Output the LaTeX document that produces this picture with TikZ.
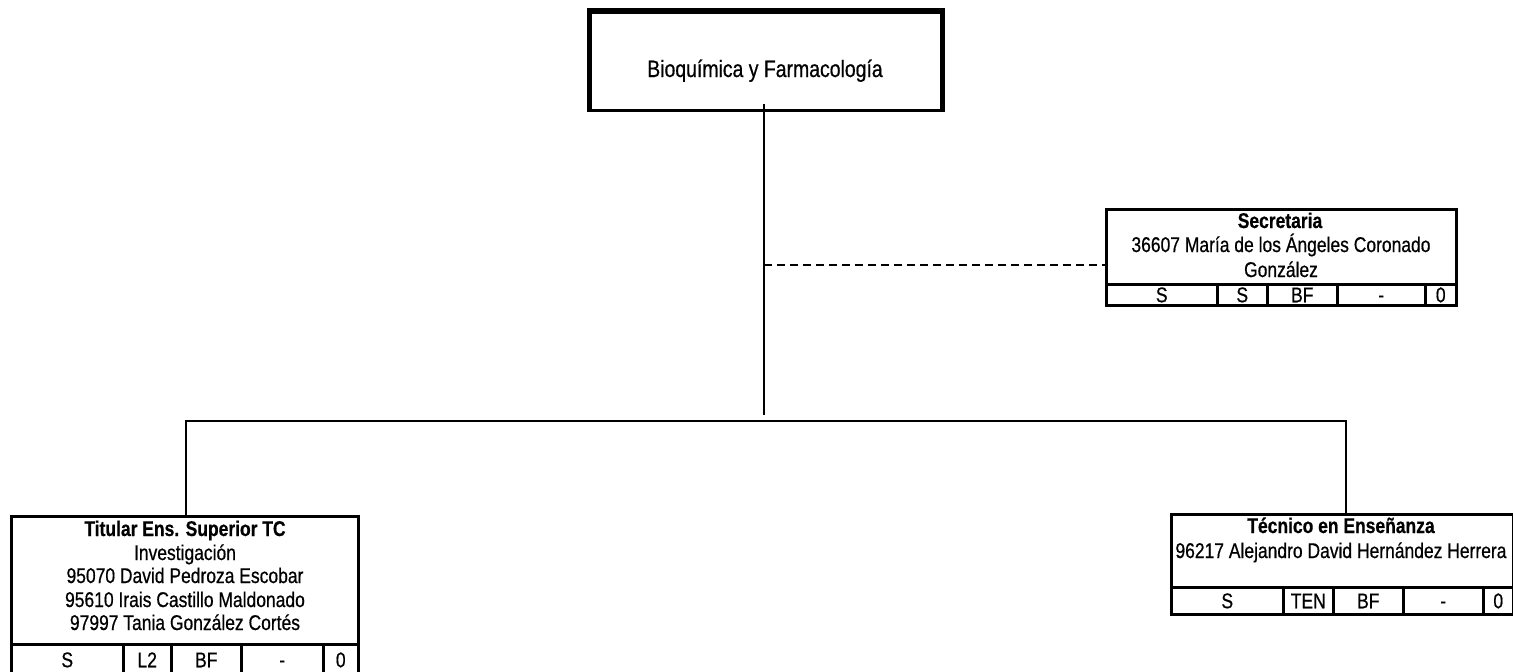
\documentclass[tikz,border=0pt]{standalone}
\usepackage{fontspec}
\setmainfont{Liberation Sans}[FakeStretch=0.82, FakeBold=0.6]
\begin{document}
\begin{tikzpicture}[x=1pt,y=-1pt,
  box/.style={draw, line width=2.5pt, inner sep=0pt, anchor=north west},
  cell/.style={draw, line width=2.5pt, inner sep=0pt, anchor=north west, text height=15pt, text depth=0pt, font=\fontsize{21.3}{23}\selectfont},
  txt/.style={anchor=base, inner sep=0pt, font=\fontsize{21.3}{23}\selectfont},
  bold/.style={txt, font=\fontsize{21.3}{23}\selectfont\bfseries},
  link/.style={line width=2pt},
  dlink/.style={line width=2pt, dash pattern=on 8pt off 5pt}]
\useasboundingbox (0,0) rectangle (1513,672);
% top box
\node[box, minimum width=350.5pt, minimum height=98pt] (top) at (589.5,11) {};
\draw[line width=5.5pt, line join=miter] (top.south west) -- (top.north west) -- (top.north east) -- (top.south east);
\node[txt, font=\fontsize{23.7}{26}\selectfont] (toptxt) at (765,77) {Bioquímica y Farmacología};
% secretaria
\node[box, minimum width=350pt, minimum height=96pt] (sec) at (1105,208) {};
\node[bold] (sect) at (1280,228) {Secretaria};
\node[txt] (secn1) at (1281,252) {36607 María de los Ángeles Coronado};
\node[txt] (secn2) at (1281,277) {González};
\node[cell, minimum width=111pt, minimum height=21pt] (sc1) at (1105,283) {S};
\node[cell, minimum width=50pt, minimum height=21pt] (sc2) at (1216,283) {S};
\node[cell, minimum width=70pt, minimum height=21pt] (sc3) at (1266,283) {BF};
\node[cell, minimum width=88pt, minimum height=21pt] (sc4) at (1336,283) {-};
\node[cell, minimum width=31pt, minimum height=21pt] (sc5) at (1424,283) {0};
% titular
\node[box, minimum width=347pt, minimum height=159pt] (tit) at (10,515) {};
\node[bold] (titt) at (185,536) {Titular Ens. Superior TC};
\node[txt] (tit1) at (185,560) {Investigación};
\node[txt] (tit2) at (185,583) {95070 David Pedroza Escobar};
\node[txt] (tit3) at (185,607) {95610 Irais Castillo Maldonado};
\node[txt] (tit4) at (185,630) {97997 Tania González Cortés};
\node[cell, minimum width=112pt, minimum height=31pt] (tc1) at (10,643) {S};
\node[cell, minimum width=48pt, minimum height=31pt] (tc2) at (122,643) {L2};
\node[cell, minimum width=70pt, minimum height=31pt] (tc3) at (170,643) {BF};
\node[cell, minimum width=82pt, minimum height=31pt] (tc4) at (240,643) {-};
\node[cell, minimum width=35pt, minimum height=31pt] (tc5) at (322,643) {0};
% tecnico
\node[box, minimum width=342pt, minimum height=100pt] (tec) at (1170,513) {};
\node[bold] (tect) at (1341,533) {Técnico en Enseñanza};
\node[txt] (tec1) at (1341,558) {96217 Alejandro David Hernández Herrera};
\node[cell, minimum width=112pt, minimum height=27pt] (ec1) at (1170,586) {S};
\node[cell, minimum width=50pt, minimum height=27pt] (ec2) at (1282,586) {TEN};
\node[cell, minimum width=70pt, minimum height=27pt] (ec3) at (1332,586) {BF};
\node[cell, minimum width=80pt, minimum height=27pt] (ec4) at (1402,586) {-};
\node[cell, minimum width=30pt, minimum height=27pt] (ec5) at (1482,586) {0};
% connectors
\coordinate (vtop) at (764,104);
\coordinate (vbot) at (764,415);
\coordinate (dj) at (764,265);
\coordinate (lj) at (186,421);
\coordinate (rj) at (1346,421);
\draw[link] (vtop) -- (vbot);
\draw[dlink] (dj) -- (dj -| sec.west);
\draw[link] (lj |- tit.north) -- (lj) -- (rj) -- (rj |- tec.north);
\end{tikzpicture}
\end{document}
